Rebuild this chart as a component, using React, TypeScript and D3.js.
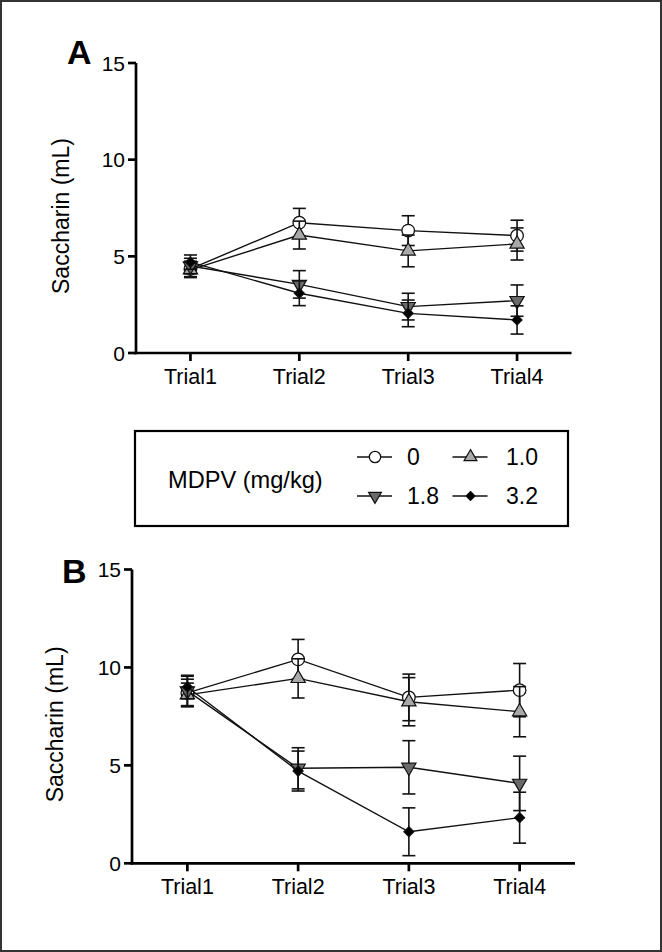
import React from "react";
import * as d3 from "d3";

const trials = ["Trial1", "Trial2", "Trial3", "Trial4"];
const doseLabels = ["0", "1.0", "1.8", "3.2"];
const yTicks = [0, 5, 10, 15];

// Panel A
const meanA0 = [4.35, 6.74, 6.33, 6.07];
const errA0 = [0.4, 0.74, 0.77, 0.8];
const meanA10 = [4.3, 6.1, 5.28, 5.64];
const errA10 = [0.4, 0.72, 0.82, 0.83];
const meanA18 = [4.5, 3.55, 2.4, 2.71];
const errA18 = [0.4, 0.71, 0.69, 0.81];
const meanA32 = [4.7, 3.09, 2.05, 1.71];
const errA32 = [0.37, 0.64, 0.69, 0.73];

// Panel B
const meanB0 = [8.7, 10.41, 8.47, 8.84];
const errB0 = [0.7, 1.02, 1.19, 1.36];
const meanB10 = [8.6, 9.44, 8.25, 7.74];
const errB10 = [0.6, 1.0, 1.23, 1.28];
const meanB18 = [8.8, 4.85, 4.9, 4.08];
const errB18 = [0.75, 1.05, 1.36, 1.39];
const meanB32 = [9.0, 4.71, 1.61, 2.33];
const errB32 = [0.6, 1.02, 1.22, 1.3];

const FONT = "'Liberation Sans', Arial, Helvetica, sans-serif";

const squareDiamond = {
  draw(ctx: any, size: number) {
    const r = Math.sqrt(size / 2);
    ctx.moveTo(0, -r);
    ctx.lineTo(r, 0);
    ctx.lineTo(0, r);
    ctx.lineTo(-r, 0);
    ctx.closePath();
  },
};

type Style = { kind: string; fill: string };
const styles: Style[] = [
  { kind: "circle", fill: "#ffffff" },
  { kind: "up", fill: "#a9a9a9" },
  { kind: "down", fill: "#6a6a6a" },
  { kind: "diamond", fill: "#000000" },
];

function Marker({ kind, fill, x, y, scale = 1 }: any) {
  if (kind === "circle") {
    return <circle cx={x} cy={y} r={6.3 * scale} fill={fill} stroke="#111" strokeWidth={1.3} />;
  }
  let p: string | null = null;
  let rot = 0;
  if (kind === "up") {
    p = d3.symbol(d3.symbolTriangle, 88 * scale * scale)();
  } else if (kind === "down") {
    p = d3.symbol(d3.symbolTriangle, 88 * scale * scale)();
    rot = 180;
  } else {
    p = d3.symbol(squareDiamond as any, 50 * scale * scale)();
  }
  return (
    <path
      d={p || ""}
      transform={`translate(${x},${y}) rotate(${rot})`}
      fill={fill}
      stroke="#111"
      strokeWidth={1.2}
      strokeLinejoin="miter"
    />
  );
}

function Panel({ letter, left, right, top, bottom, means, errs, labelX, letterX, letterY }: any) {
  const x = d3.scalePoint<string>().domain(trials).range([left, right]).padding(0.5);
  const y = d3.scaleLinear().domain([0, 15]).range([bottom, top]);
  const line = d3
    .line<number>()
    .x((_, i) => x(trials[i]) as number)
    .y((d) => y(d));
  const cap = 6.5;
  return (
    <g>
      <text x={letterX} y={letterY} fontFamily={FONT} fontWeight="bold" fontSize={34} fill="#000">
        {letter}
      </text>
      <text
        transform={`translate(${labelX},${(top + bottom) / 2 + 8}) rotate(-90)`}
        textAnchor="middle"
        fontFamily={FONT}
        fontSize={23}
        fill="#000"
      >
        Saccharin (mL)
      </text>
      {means.map((m: number[], si: number) => (
        <g key={si}>
          <path d={line(m) || ""} fill="none" stroke="#111" strokeWidth={1.4} />
          {m.map((v, i) => {
            const cx = x(trials[i]) as number;
            const e = errs[si][i];
            return (
              <g key={i} stroke="#111" strokeWidth={1.6}>
                <line x1={cx} x2={cx} y1={y(v - e)} y2={y(v + e)} />
                <line x1={cx - cap} x2={cx + cap} y1={y(v + e)} y2={y(v + e)} />
                <line x1={cx - cap} x2={cx + cap} y1={y(v - e)} y2={y(v - e)} />
              </g>
            );
          })}
          {m.map((v, i) => (
            <Marker key={"m" + i} kind={styles[si].kind} fill={styles[si].fill} x={x(trials[i])} y={y(v)} />
          ))}
        </g>
      ))}
      <line x1={left} x2={left} y1={top} y2={bottom + 1.3} stroke="#000" strokeWidth={2.7} />
      <line x1={left - 1.3} x2={right} y1={bottom} y2={bottom} stroke="#000" strokeWidth={2.7} />
      {yTicks.map((t) => (
        <g key={t}>
          <line x1={left - 8} x2={left} y1={y(t)} y2={y(t)} stroke="#000" strokeWidth={2.7} />
          <text
            x={left - 11}
            y={y(t) + 7.5}
            textAnchor="end"
            fontFamily={FONT}
            fontSize={21}
            fill="#000"
          >
            {t}
          </text>
        </g>
      ))}
      {trials.map((t) => (
        <g key={t}>
          <line
            x1={x(t) as number}
            x2={x(t) as number}
            y1={bottom}
            y2={bottom + 8}
            stroke="#000"
            strokeWidth={2.7}
          />
          <text
            x={x(t) as number}
            y={bottom + 31}
            textAnchor="middle"
            fontFamily={FONT}
            fontSize={21.5}
            fill="#000"
          >
            {t}
          </text>
        </g>
      ))}
    </g>
  );
}

function Legend() {
  const rows = [457, 496];
  const cols = [375, 470.5];
  const textX = [407, 506];
  const entries = [0, 1, 2, 3];
  return (
    <g>
      <rect x={135} y={431} width={433} height={95} fill="#fff" stroke="#000" strokeWidth={2.2} />
      <text x={168} y={488} fontFamily={FONT} fontSize={23.6} fill="#000">
        MDPV (mg/kg)
      </text>
      {entries.map((k) => {
        const r = k < 2 ? rows[0] : rows[1];
        const c = cols[k % 2];
        return (
          <g key={k}>
            <line x1={c - 18} x2={c + 17} y1={r} y2={r} stroke="#111" strokeWidth={1.4} />
            <Marker kind={styles[k].kind} fill={styles[k].fill} x={c} y={r} scale={0.9} />
            <text x={textX[k % 2]} y={r + 8} fontFamily={FONT} fontSize={23} fill="#000">
              {doseLabels[k]}
            </text>
          </g>
        );
      })}
    </g>
  );
}

export default function App() {
  return (
    <svg
      width={662}
      height={952}
      viewBox="0 0 662 952"
      style={{ position: "absolute", left: 0, top: 0, background: "#fff" }}
    >
      <rect x={0} y={0} width={662} height={952} fill="#fff" />
      <rect x={1} y={1} width={660} height={950} fill="none" stroke="#333" strokeWidth={2} />
      <Panel
        letter="A"
        left={136}
        right={571.5}
        top={63}
        bottom={353}
        means={[meanA0, meanA10, meanA18, meanA32]}
        errs={[errA0, errA10, errA18, errA32]}
        labelX={69}
        letterX={67}
        letterY={64}
      />
      <Legend />
      <Panel
        letter="B"
        left={132}
        right={575}
        top={569.5}
        bottom={863.3}
        means={[meanB0, meanB10, meanB18, meanB32]}
        errs={[errB0, errB10, errB18, errB32]}
        labelX={63}
        letterX={62}
        letterY={583}
      />
    </svg>
  );
}
